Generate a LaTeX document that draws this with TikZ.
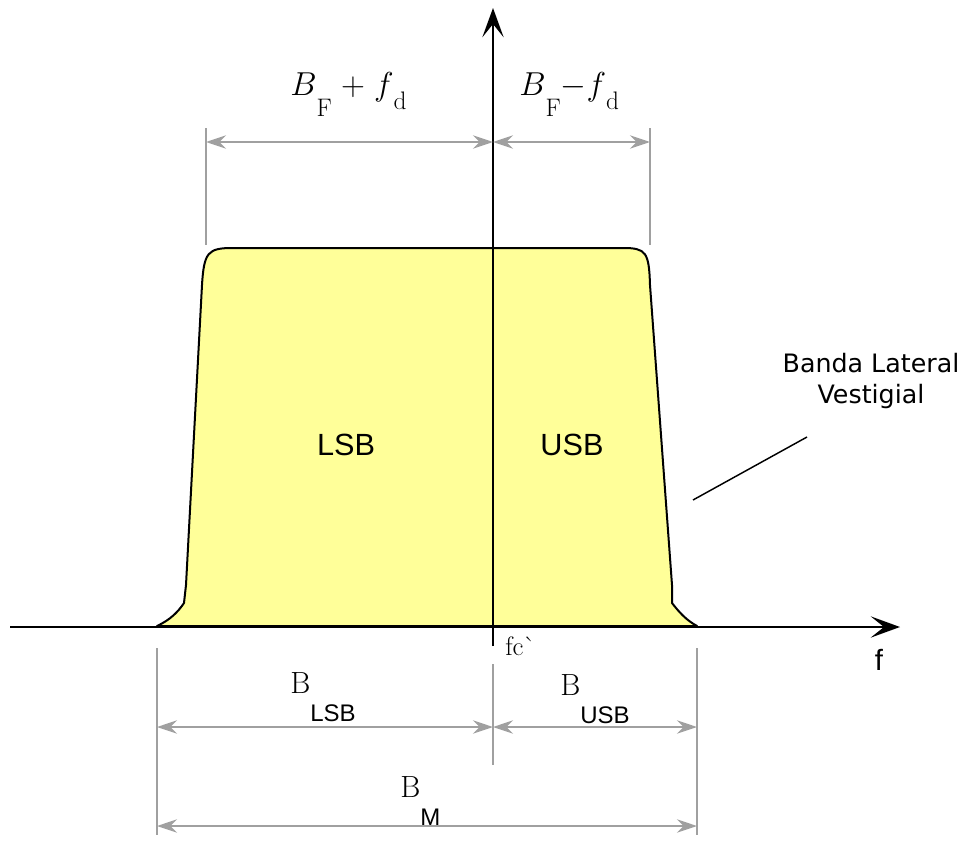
\documentclass[tikz,border=0pt]{standalone}
\usepackage{fontspec}
\setsansfont{Liberation Sans}
\newfontfamily\notefont{DejaVu Sans}
\usetikzlibrary{arrows.meta}
\definecolor{bandyellow}{RGB}{255,255,153}
\definecolor{dimgray}{RGB}{160,160,160}
% serif B with a lowered sans subscript, as in the bandwidth labels
\newcommand{\bwlabel}[2]{{\fontsize{23}{23}\selectfont #1}\raisebox{-21pt}{\sffamily\fontsize{18}{18}\selectfont #2}}
\newcommand{\toplow}[2]{\raisebox{-#1}{\fontsize{19}{19}\selectfont #2}}

\begin{document}
\begin{tikzpicture}[x=0.75pt, y=-0.75pt,
    bandshape/.style={fill=bandyellow, draw=black, line width=1.5pt, line join=round},
    axisline/.style={black, line width=1.5pt, -{Stealth[length=22pt, width=16pt, inset=10pt]}},
    dimline/.style={dimgray, line width=1.6pt, {Stealth[length=15pt, width=10pt, inset=5pt]}-{Stealth[length=15pt, width=10pt, inset=5pt]}},
    dimtick/.style={dimgray, line width=1.2pt},
    bandtxt/.style={font=\sffamily\fontsize{23}{23}\selectfont},
    labeltxt/.style={anchor=base west, inner sep=0pt},
    notetxt/.style={font=\notefont\fontsize{19}{23}\selectfont, align=center}
  ]
  \useasboundingbox (0,0) rectangle (971,842);

  % Spectrum of the vestigial sideband signal
  \draw[bandshape] (157,626) .. controls (170,620) and (178,612) .. (184,603) -- (186,585) -- (202,285)
    .. controls (204,252) and (208,248) .. (233,248) -- (623,248)
    .. controls (646,248) and (649,252) .. (650,285) -- (672,585) -- (672,603)
    .. controls (679,612) and (686,620) .. (697,626) -- cycle;

  % Axes
  \coordinate (fstart) at (10,627);
  \coordinate (fend) at (900,627);
  \coordinate (ybot) at (493,646);
  \coordinate (ytop) at (493,8);
  \draw[axisline] (fstart) -- (fend);
  \draw[axisline] (ybot) -- (ytop);
  \node[anchor=base] (flabel) at (879,670) {\sffamily\fontsize{22}{22}\selectfont f};
  \node[labeltxt] (fclabel) at (505,655) {\fontsize{20}{20}\selectfont fc\textasciigrave};

  % Upper dimensions
  \coordinate (tl) at (206,142);
  \coordinate (tm) at (493,142);
  \coordinate (tr) at (650,142);
  \draw[dimtick] (206,128) -- (206,245);
  \draw[dimtick] (650,128) -- (650,245);
  \draw[dimline] (tl) -- (tm);
  \draw[dimline] (tm) -- (tr);
  \node[labeltxt] (bfplus) at (290,95) {\fontsize{26}{26}\selectfont $B$\toplow{16pt}{F}$\;+\;f$\toplow{11pt}{d}};
  \node[labeltxt] (bfminus) at (519,95) {\fontsize{26}{26}\selectfont $B$\toplow{16pt}{F}$-f$\toplow{11pt}{d}};

  % Sideband names
  \node[bandtxt] (lsb) at (346,445) {LSB};
  \node[bandtxt] (usb) at (572,445) {USB};

  % Note on the vestigial sideband
  \node[notetxt] (note) at (871,381) {Banda Lateral\\Vestigial};
  \coordinate (leadtip) at (693,500);
  \coordinate (leadend) at (807,437);
  \draw[line width=1.1pt] (leadtip) -- (leadend);

  % Lower dimensions
  \coordinate (ll) at (157,727);
  \coordinate (lm) at (493,727);
  \coordinate (lr) at (697,727);
  \coordinate (ml) at (157,826);
  \coordinate (mr) at (697,826);
  \draw[dimtick] (157,648) -- (157,835);
  \draw[dimtick] (697,648) -- (697,835);
  \draw[dimtick] (493,664) -- (493,765);
  \draw[dimline] (ll) -- (lm);
  \draw[dimline] (lm) -- (lr);
  \draw[dimline] (ml) -- (mr);
  \node[labeltxt] (blsb) at (290,693) {\bwlabel{B}{LSB}};
  \node[labeltxt] (busb) at (560,695) {\bwlabel{B}{USB}};
  \node[labeltxt] (bm) at (400,797) {\bwlabel{B}{M}};
\end{tikzpicture}
\end{document}
